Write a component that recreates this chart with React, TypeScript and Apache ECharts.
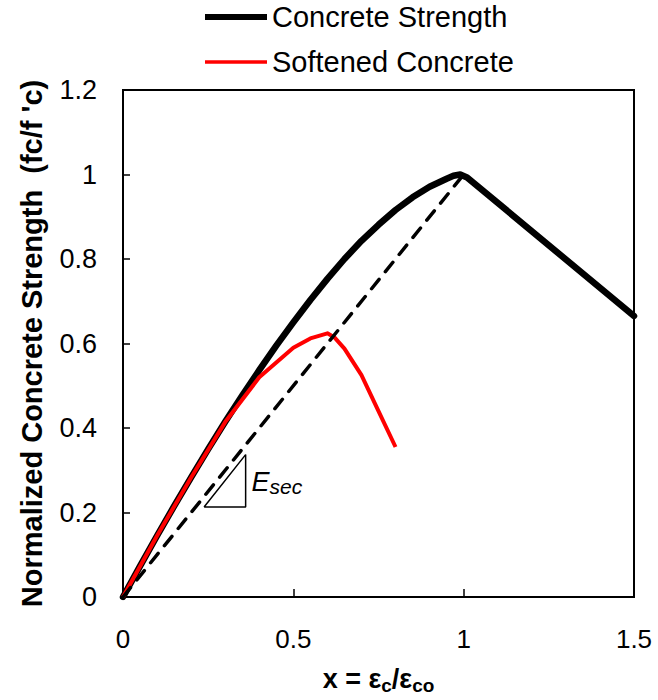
import React, { useEffect, useRef } from "react";
import * as echarts from "echarts";

const strengthX = [0, 0.05, 0.1, 0.15, 0.2, 0.25, 0.3, 0.35, 0.4, 0.45, 0.5, 0.55, 0.6, 0.65, 0.7, 0.75, 0.8, 0.85, 0.9, 0.95, 0.97, 0.99, 1.01, 1.5];
const strengthY = [0, 0.073, 0.145, 0.215, 0.283, 0.35, 0.415, 0.477, 0.537, 0.595, 0.65, 0.703, 0.753, 0.8, 0.843, 0.881, 0.916, 0.946, 0.971, 0.99, 0.997, 1.0, 0.993, 0.665];

const softX = [0, 0.1, 0.2, 0.3, 0.4, 0.5, 0.55, 0.6, 0.62, 0.65, 0.7, 0.75, 0.8];
const softY = [0, 0.145, 0.283, 0.414, 0.52, 0.59, 0.612, 0.624, 0.615, 0.588, 0.525, 0.44, 0.355];

const secantX = [0, 1];
const secantY = [0, 1];

const triX = [0.238, 0.36, 0.36, 0.238];
const triY = [0.213, 0.213, 0.337, 0.213];

const esecLabelPoint = [0.376, 0.272];

const yTicks = ["0", "0.2", "0.4", "0.6", "0.8", "1", "1.2"];
const xTicks = ["0", "0.5", "1", "1.5"];

const FONT = "'Liberation Sans', Arial, sans-serif";

const zip = (xs: number[], ys: number[]) => xs.map((x, i) => [x, ys[i]]);

export default function App() {
  const ref = useRef<HTMLDivElement>(null);
  useEffect(() => {
    if (!ref.current) return;
    const chart = echarts.init(ref.current, null, { renderer: "svg" });
    chart.setOption({
      animation: false,
      backgroundColor: "#fff",
      textStyle: { fontFamily: FONT },
      legend: {
        data: [
          { name: "Concrete Strength", icon: "path://M0,0h62v6h-62z" },
          { name: "Softened Concrete", icon: "path://M0,0h62v3.5h-62z" },
        ],
        orient: "vertical",
        left: 205,
        top: 1,
        padding: 0,
        itemWidth: 62,
        itemHeight: 14,
        itemGap: 13,
        textStyle: { fontFamily: FONT, fontSize: 29, color: "#000", lineHeight: 32, padding: [0, 0, 0, 0] },
      },
      grid: {
        left: 123,
        right: 24,
        top: 90,
        bottom: 100,
        show: true,
        borderColor: "#000",
        borderWidth: 2,
        backgroundColor: "transparent",
      },
      xAxis: {
        type: "value",
        min: 0,
        max: 1.5,
        interval: 0.5,
        axisLine: { show: true, onZero: false, lineStyle: { color: "#000", width: 2 } },
        axisTick: { show: true, inside: true, length: 8, lineStyle: { color: "#000", width: 1.5 } },
        splitLine: { show: false },
        axisLabel: {
          margin: 29,
          fontSize: 26,
          color: "#000",
          fontFamily: FONT,
          formatter: (v: number) => xTicks[Math.round(v / 0.5)] ?? "",
        },
        name: "{a|x = ε}{s|c}{a|/ε}{s|co}",
        nameLocation: "middle",
        nameGap: 66,
        nameTextStyle: {
          rich: {
            a: { fontFamily: FONT, fontWeight: "bold", fontSize: 27, color: "#000", lineHeight: 32, verticalAlign: "middle" },
            s: { fontFamily: FONT, fontWeight: "bold", fontSize: 19, color: "#000", lineHeight: 16, verticalAlign: "bottom" },
          },
        },
      },
      yAxis: {
        type: "value",
        min: 0,
        max: 1.2,
        interval: 0.2,
        axisLine: { show: true, onZero: false, lineStyle: { color: "#000", width: 2 } },
        axisTick: { show: true, inside: true, length: 7, lineStyle: { color: "#000", width: 1.5 } },
        splitLine: { show: false },
        axisLabel: {
          margin: 26,
          fontSize: 27,
          color: "#000",
          fontFamily: FONT,
          formatter: (v: number) => yTicks[Math.round(v / 0.2)] ?? "",
        },
        name: "Normalized Concrete Strength  (fc/f 'c)",
        nameLocation: "middle",
        nameRotate: 90,
        nameGap: 77,
        nameTextStyle: { fontFamily: FONT, fontWeight: "bold", fontSize: 29, color: "#000" },
      },
      series: [
        {
          name: "Concrete Strength",
          type: "line",
          data: zip(strengthX, strengthY),
          showSymbol: false,
          symbol: "none",
          lineStyle: { color: "#000", width: 6.5, join: "round", cap: "round" },
          itemStyle: { color: "#000" },
          z: 2,
        },
        {
          name: "Softened Concrete",
          type: "line",
          data: zip(softX, softY),
          showSymbol: false,
          symbol: "none",
          lineStyle: { color: "#ff0000", width: 4, join: "round" },
          itemStyle: { color: "#ff0000" },
          z: 3,
        },
        {
          name: "Secant",
          type: "line",
          data: zip(secantX, secantY),
          showSymbol: false,
          symbol: "none",
          lineStyle: { color: "#000", width: 3.5, type: [12, 10], cap: "round" },
          z: 4,
        },
        {
          name: "Triangle",
          type: "line",
          data: zip(triX, triY),
          showSymbol: false,
          symbol: "none",
          lineStyle: { color: "#000", width: 1.5 },
          z: 4,
        },
        {
          name: "Esec",
          type: "scatter",
          data: [esecLabelPoint],
          symbolSize: 1,
          itemStyle: { color: "#fff", opacity: 0 },
          label: {
            show: true,
            position: "right",
            distance: 0,
            color: "#000",
            opacity: 1,
            formatter: "{e|E}{s|sec}",
            rich: {
              e: { fontFamily: FONT, fontStyle: "italic", fontSize: 27, color: "#000", lineHeight: 30, verticalAlign: "middle" },
              s: { fontFamily: FONT, fontStyle: "italic", fontSize: 21, color: "#000", lineHeight: 18, verticalAlign: "bottom" },
            },
          },
          z: 5,
        },
      ],
    });
    return () => chart.dispose();
  }, []);
  return <div ref={ref} style={{ width: 658, height: 700, position: "absolute", left: 0, top: 0 }} />;
}
